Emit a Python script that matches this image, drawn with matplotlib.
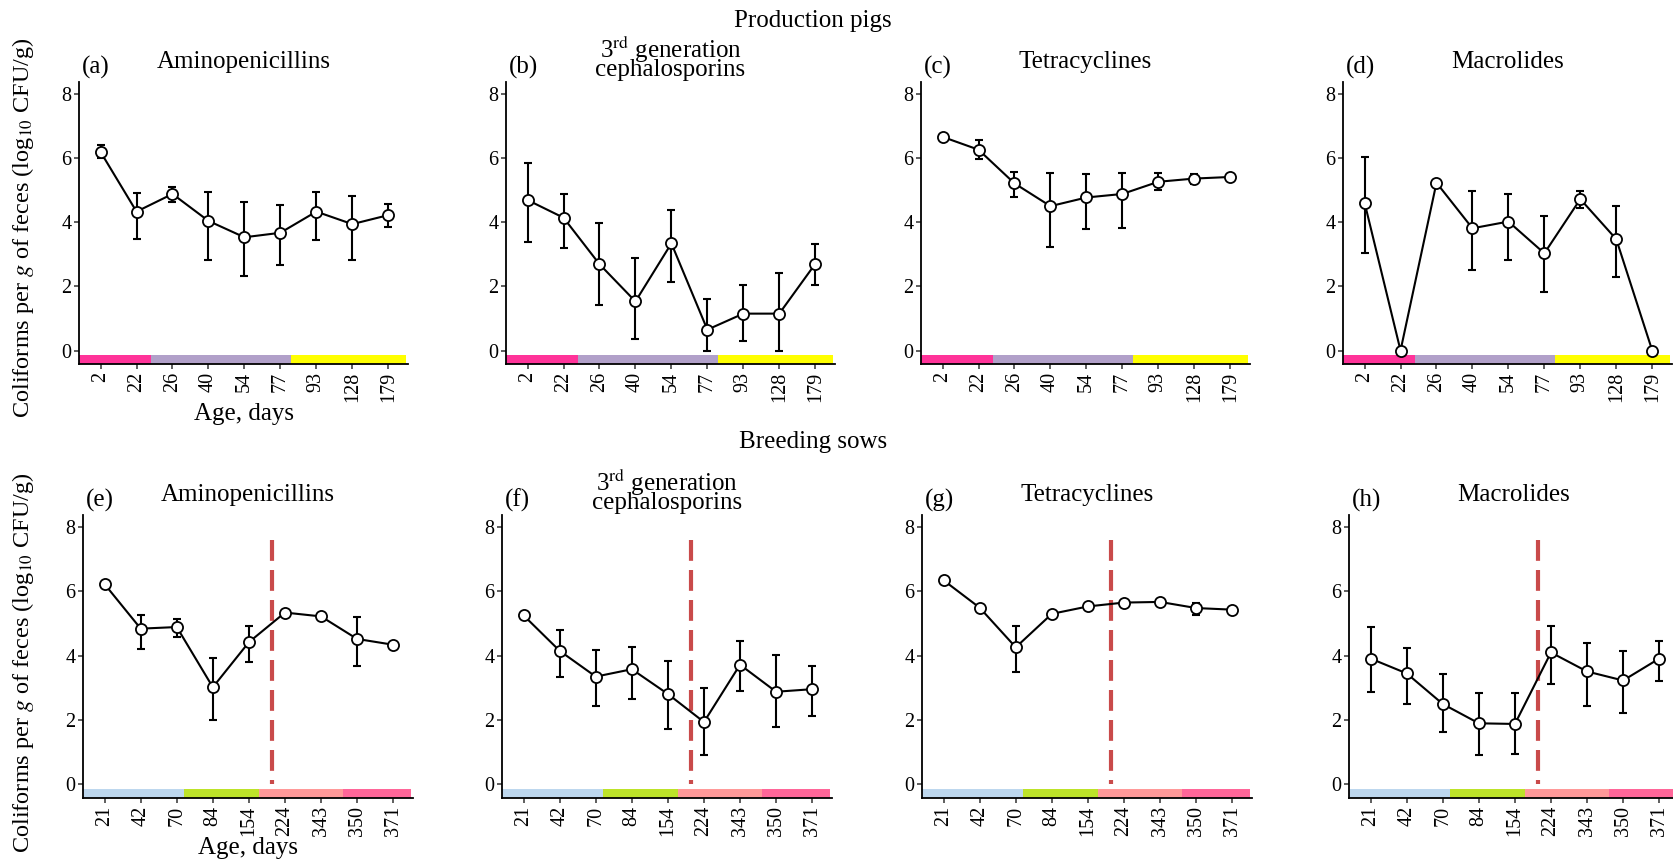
import numpy as np
import matplotlib.pyplot as plt

plt.rcParams['font.family'] = ['Liberation Serif', 'DejaVu Serif']
plt.rcParams['mathtext.fontset'] = 'stix'

# x categories (age, days)
pig_days = ["2", "22", "26", "40", "54", "77", "93", "128", "179"]
sow_days = ["21", "42", "70", "84", "154", "224", "343", "350", "371"]

# production pigs: mean, lower and upper end of the error bars
amino_pig = [6.19, 4.33, 4.88, 4.04, 3.53, 3.67, 4.33, 3.94, 4.22]
amino_pig_lo = [6.00, 3.47, 4.64, 2.81, 2.31, 2.67, 3.45, 2.83, 3.86]
amino_pig_hi = [6.40, 4.92, 5.10, 4.95, 4.62, 4.53, 4.93, 4.83, 4.57]

ceph_pig = [4.69, 4.14, 2.69, 1.53, 3.34, 0.65, 1.15, 1.15, 2.70]
ceph_pig_lo = [3.37, 3.20, 1.42, 0.36, 2.15, 0.00, 0.29, 0.00, 2.05]
ceph_pig_hi = [5.83, 4.87, 3.96, 2.88, 4.38, 1.60, 2.03, 2.43, 3.32]

tetra_pig = [6.66, 6.26, 5.21, 4.50, 4.77, 4.88, 5.26, 5.36, 5.41]
tetra_pig_lo = [6.66, 5.96, 4.79, 3.22, 3.78, 3.83, 5.00, 5.19, 5.41]
tetra_pig_hi = [6.66, 6.55, 5.55, 5.54, 5.49, 5.54, 5.54, 5.49, 5.41]

macro_pig = [4.61, 0.00, 5.23, 3.81, 4.02, 3.03, 4.72, 3.47, 0.00]
macro_pig_lo = [3.03, 0.00, 5.10, 2.52, 2.83, 1.81, 4.45, 2.29, 0.00]
macro_pig_hi = [6.04, 0.00, 5.33, 4.98, 4.87, 4.20, 4.98, 4.51, 0.00]

# breeding sows
amino_sow = [6.22, 4.84, 4.89, 3.02, 4.42, 5.34, 5.22, 4.52, 4.34]
amino_sow_lo = [6.22, 4.20, 4.57, 2.00, 3.80, 5.24, 5.22, 3.68, 4.34]
amino_sow_hi = [6.22, 5.25, 5.15, 3.92, 4.93, 5.42, 5.22, 5.19, 4.34]

ceph_sow = [5.25, 4.15, 3.35, 3.58, 2.81, 1.94, 3.72, 2.88, 2.96]
ceph_sow_lo = [5.25, 3.33, 2.43, 2.67, 1.73, 0.93, 2.89, 1.79, 2.13]
ceph_sow_hi = [5.25, 4.79, 4.18, 4.27, 3.84, 2.99, 4.47, 4.01, 3.69]

tetra_sow = [6.34, 5.49, 4.26, 5.30, 5.53, 5.65, 5.67, 5.48, 5.43]
tetra_sow_lo = [6.34, 5.49, 3.49, 5.30, 5.53, 5.65, 5.67, 5.25, 5.43]
tetra_sow_hi = [6.34, 5.49, 4.93, 5.30, 5.53, 5.65, 5.67, 5.65, 5.43]

macro_sow = [3.91, 3.45, 2.50, 1.90, 1.88, 4.10, 3.51, 3.23, 3.91]
macro_sow_lo = [2.86, 2.49, 1.62, 0.93, 0.94, 3.13, 2.44, 2.21, 3.21]
macro_sow_hi = [4.88, 4.23, 3.42, 2.85, 2.83, 4.93, 4.40, 4.14, 4.46]

# production phases shown as coloured strips under the data
pig_phase_ends = [1.4, 5.3, 8.5]
pig_phase_colors = ["#FF3399", "#B1A0C9", "#FFFF00"]
sow_phase_ends = [2.2, 4.27, 6.6, 8.5]
sow_phase_colors = ["#BDD7EE", "#BDE329", "#FF9999", "#FF6699"]
sow_cut = 4.65  # dashed line

panels = [
    ("(a)", "Aminopenicillins", pig_days, amino_pig, amino_pig_lo, amino_pig_hi),
    ("(b)", "3$^{\\mathrm{rd}}$ generation\ncephalosporins", pig_days, ceph_pig, ceph_pig_lo, ceph_pig_hi),
    ("(c)", "Tetracyclines", pig_days, tetra_pig, tetra_pig_lo, tetra_pig_hi),
    ("(d)", "Macrolides", pig_days, macro_pig, macro_pig_lo, macro_pig_hi),
    ("(e)", "Aminopenicillins", sow_days, amino_sow, amino_sow_lo, amino_sow_hi),
    ("(f)", "3$^{\\mathrm{rd}}$ generation\ncephalosporins", sow_days, ceph_sow, ceph_sow_lo, ceph_sow_hi),
    ("(g)", "Tetracyclines", sow_days, tetra_sow, tetra_sow_lo, tetra_sow_hi),
    ("(h)", "Macrolides", sow_days, macro_sow, macro_sow_lo, macro_sow_hi),
]

W, H = 1673, 864
fig = plt.figure(figsize=(W / 100, H / 100), dpi=100)

# axes boxes in pixels: left, top, width, height
boxes = [(79, 82, 329, 282), (506, 82, 329, 282), (921, 82, 329, 282), (1343, 82, 329, 282),
         (83, 515, 330, 283), (502, 515, 330, 283), (922, 515, 330, 283), (1349, 515, 330, 283)]

ylo, yband = -0.42, -0.13

for i, (tag, title, days, mean, lo, hi) in enumerate(panels):
    l, t, w, h = boxes[i]
    ax = fig.add_axes([l / W, 1 - (t + h) / H, w / W, h / H])
    x = np.arange(len(days))
    mean = np.array(mean)
    yerr = [mean - np.array(lo), np.array(hi) - mean]

    ends = pig_phase_ends if i < 4 else sow_phase_ends
    cols = pig_phase_colors if i < 4 else sow_phase_colors
    start = -0.6
    for e, c in zip(ends, cols):
        ax.fill_between([start, e], ylo, yband, color=c, lw=0, zorder=1)
        start = e

    if i >= 4:
        ax.plot([sow_cut, sow_cut], [7.6, 0], color="#C94A4A", lw=3,
                ls=(0, (5, 2.2)), zorder=1.5)

    ax.errorbar(x, mean, yerr=yerr, fmt="none", ecolor="black", elinewidth=1.5,
                capsize=3, capthick=1.5, zorder=2)
    ax.plot(x, mean, color="black", lw=1.5, marker="o", ms=8, mfc="white",
            mec="black", mew=1.3, zorder=3)

    ax.set_xlim(-0.6, 8.55)
    ax.set_ylim(ylo, 8.37)
    ax.set_yticks([0, 2, 4, 6, 8])
    ax.set_xticks(x)
    ax.set_xticklabels(days, rotation=90)
    ax.tick_params(labelsize=14.5, length=3.5, width=1.1, pad=2, color="#333333")
    for s in ["top", "right"]:
        ax.spines[s].set_visible(False)
    for s in ["left", "bottom"]:
        ax.spines[s].set_linewidth(1.3)

    ax.text(0.01, 1.03, tag, transform=ax.transAxes, ha="left", va="baseline", fontsize=18)
    if "\n" in title:
        ax.text(0.5, 1.022, title, transform=ax.transAxes, ha="center", va="baseline",
                fontsize=18, linespacing=0.62)
    else:
        ax.text(0.5, 1.05, title, transform=ax.transAxes, ha="center", va="baseline", fontsize=18)

    if i in (0, 4):
        ax.set_xlabel("Age, days", fontsize=18, labelpad=1)

ylab = "Coliforms per $g$ of feces (log$_{10}$ CFU/g)"
fig.text(23 / W, 1 - 228 / H, ylab, rotation=90, ha="center", va="center", fontsize=17.5)
fig.text(23 / W, 1 - 663 / H, ylab, rotation=90, ha="center", va="center", fontsize=17.5)

fig.text(813 / W, 1 - 21 / H, "Production pigs", ha="center", va="center", fontsize=18)
fig.text(813 / W, 1 - 442 / H, "Breeding sows", ha="center", va="center", fontsize=18)

fig.savefig("out.png", dpi=100)
